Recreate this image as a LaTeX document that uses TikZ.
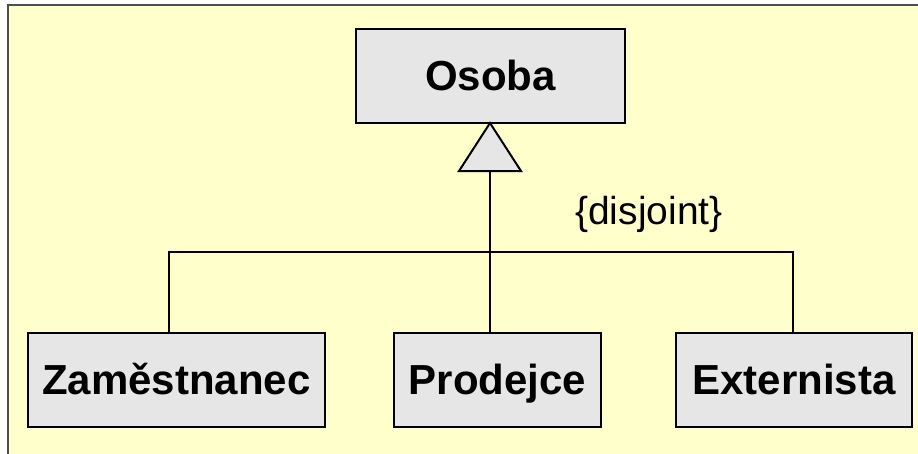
\documentclass[tikz,border=0pt]{standalone}
\usepackage{fontspec}
\setmainfont{Liberation Sans}
\definecolor{bgyellow}{HTML}{FFFFCC}
\definecolor{boxgray}{HTML}{E6E6E6}
\definecolor{framegray}{HTML}{4D4D4D}
\begin{document}
\begin{tikzpicture}[x=1pt,y=-1pt,
        cls/.style={draw,fill=boxgray,line width=2pt,minimum height=94pt,
            inner sep=0pt,text height=38pt,text depth=9pt,
            font=\fontsize{42}{50}\selectfont\bfseries},
        conn/.style={line width=2pt}]
    \useasboundingbox (0,0) rectangle (918,453);
    \clip (0,0) rectangle (918,453);
    \fill[white] (0,0) rectangle (918,453);
    \draw[framegray,fill=bgyellow,line width=1.5pt] (8,5) rectangle (940,470);
    % classes
    \node[cls,minimum width=269pt] (osoba) at (490.5,76) {Osoba};
    \node[cls,minimum width=297pt] (zam) at (176.5,380) {Zaměstnanec};
    \node[cls,minimum width=207pt] (prod) at (497.5,380) {Prodejce};
    \node[cls,minimum width=236pt] (ext) at (794,380) {Externista};
    % generalization
    \coordinate (tip) at (490,123);
    \coordinate (tri) at (490,171);
    \coordinate (jl) at (169,252);
    \coordinate (jr) at (793,252);
    \draw[conn] (tri) -- (tri |- prod.north);
    \draw[conn] (zam.north -| jl) -- (jl) -- (jr) -- (jr |- ext.north);
    \draw[conn,fill=boxgray,line join=miter] (tip) -- (521,171) -- (459,171) -- cycle;
    \node[font=\fontsize{39}{46}\selectfont] (disj) at (649,214) {\{disjoint\}};
\end{tikzpicture}
\end{document}
